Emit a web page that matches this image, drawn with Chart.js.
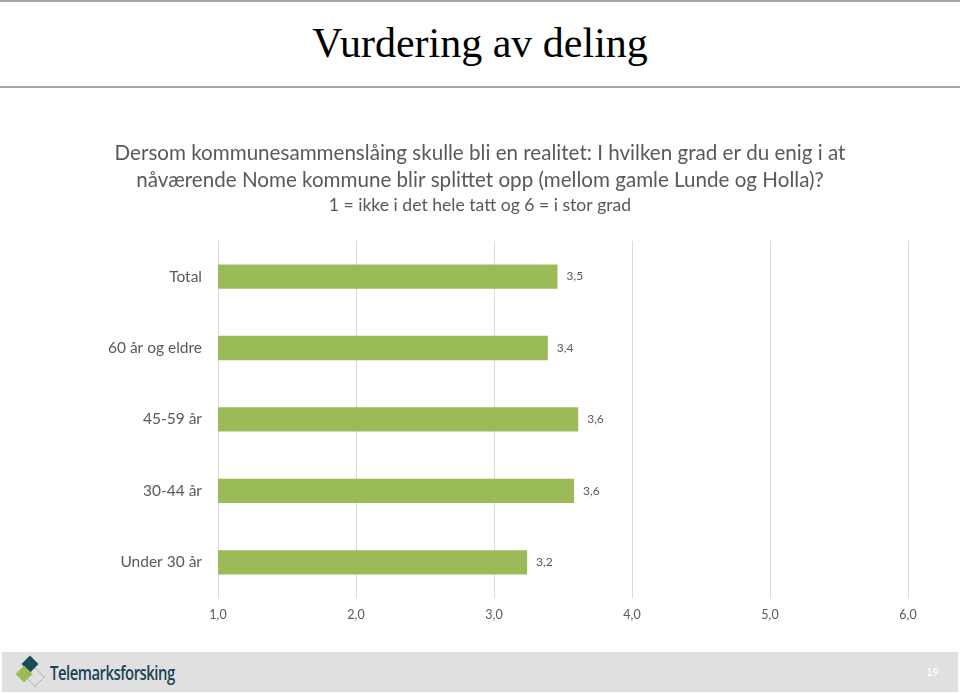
<!DOCTYPE html>
<html>
<head>
<meta charset="utf-8">
<script src="https://cdn.jsdelivr.net/npm/chart.js@4"></script>
<style>
  body { margin: 0; width: 960px; height: 694px; background: #fff; position: relative; overflow: hidden; font-family: Lato, sans-serif; }
  .topline { position: absolute; left: 0; top: 0; width: 960px; height: 2px; background: #a6a6a6; }
  .midline { position: absolute; left: 0; top: 86px; width: 960px; height: 2px; background: #a6a6a6; }
  h1 { position: absolute; top: 19px; left: 0; width: 960px; margin: 0; text-align: center; font-family: "Liberation Serif", serif; font-weight: normal; font-size: 42px; color: #000; }
  #wrap { position: absolute; left: 0; top: 100px; width: 960px; height: 540px; }
  .footer { position: absolute; left: 2px; top: 652px; width: 956px; height: 40px; background: #e0e0e0; }
  .logo { position: absolute; left: 48px; top: 8px; font-family: "Open Sans", sans-serif; font-size: 19px; font-weight: 600; color: #1a4556; letter-spacing: -0.6px; transform: scaleX(0.78); transform-origin: left; }
  .icon1 { position: absolute; left: 22px; top: 6px; width: 12px; height: 12px; background: #1d4a5a; transform: rotate(45deg); }
  .icon2 { position: absolute; left: 16px; top: 16px; width: 12px; height: 12px; background: #9bbb59; transform: rotate(45deg); }
  .icon3 { position: absolute; left: 26px; top: 18px; width: 12px; height: 12px; border: 1px dotted #8aa; transform: rotate(45deg); }
  .pg { position: absolute; left: 924px; top: 13px; font-size: 11px; color: #fff; }
</style>
</head>
<body>
<div class="topline"></div>
<h1>Vurdering av deling</h1>
<div class="midline"></div>
<div id="wrap"><canvas id="chart"></canvas></div>
<div class="footer">
  <div class="icon3"></div><div class="icon1"></div><div class="icon2"></div>
  <div class="logo">Telemarksforsking</div>
  <div class="pg">19</div>
</div>
<script>
const categories = ['Total', '60 år og eldre', '45-59 år', '30-44 år', 'Under 30 år'];
const values = [3.46, 3.39, 3.61, 3.58, 3.24];
const valueLabels = ['3,5', '3,4', '3,6', '3,6', '3,2'];
const titleLines = ['Dersom kommunesammenslåing skulle bli en realitet: I hvilken grad er du enig i at',
                    'nåværende Nome kommune blir splittet opp (mellom gamle Lunde og Holla)?'];
const subtitleLine = '1 = ikke i det hele tatt og 6 = i stor grad';

const textColor = '#595959';

const barLabels = {
    id: 'barLabels',
    afterDatasetsDraw(chart) {
        const ctx = chart.ctx;
        const meta = chart.getDatasetMeta(0);
        ctx.save();
        ctx.font = '12px Lato';
        ctx.fillStyle = textColor;
        ctx.textBaseline = 'middle';
        meta.data.forEach(function(bar, i) {
            ctx.fillText(valueLabels[i], bar.x + 9, bar.y);
        });
        ctx.restore();
    }
};

document.addEventListener("DOMContentLoaded", function() {
    const ctx = document.getElementById('chart').getContext('2d');
    new Chart(ctx, {
        type: 'bar',
        data: {
            labels: categories,
            datasets: [{
                data: values,
                backgroundColor: '#9bbb59',
                barPercentage: 0.34,
                categoryPercentage: 1
            }]
        },
        plugins: [barLabels],
        options: {
            indexAxis: 'y',
            responsive: true,
            maintainAspectRatio: false,
            animation: false,
            layout: { padding: { left: 52, right: 52, bottom: 0 } },
            plugins: {
                legend: { display: false },
                tooltip: { enabled: false },
                title: {
                    display: true,
                    text: titleLines,
                    color: textColor,
                    font: { family: 'Lato', size: 20.6, weight: 'normal', lineHeight: 1.31 },
                    padding: { top: 40, bottom: 0 }
                },
                subtitle: {
                    display: true,
                    text: subtitleLine,
                    color: textColor,
                    font: { family: 'Lato', size: 17.6, weight: 'normal', lineHeight: 1.3 },
                    padding: { top: 0, bottom: 24 }
                }
            },
            scales: {
                x: {
                    min: 1,
                    max: 6,
                    ticks: {
                        stepSize: 1,
                        color: textColor,
                        padding: 9,
                        font: { family: 'Lato', size: 12.5 },
                        callback: function(v) { return v.toFixed(1).replace('.', ','); }
                    },
                    grid: { color: '#d9d9d9', drawTicks: false },
                    border: { display: false },
                    afterFit: function(s) { s.height = 42; }
                },
                y: {
                    ticks: {
                        color: textColor,
                        padding: 8,
                        font: { family: 'Lato', size: 15.5 }
                    },
                    grid: { display: false },
                    border: { display: false },
                    afterFit: function(s) { s.width = 166; }
                }
            }
        }
    });
});
</script>
</body>
</html>
